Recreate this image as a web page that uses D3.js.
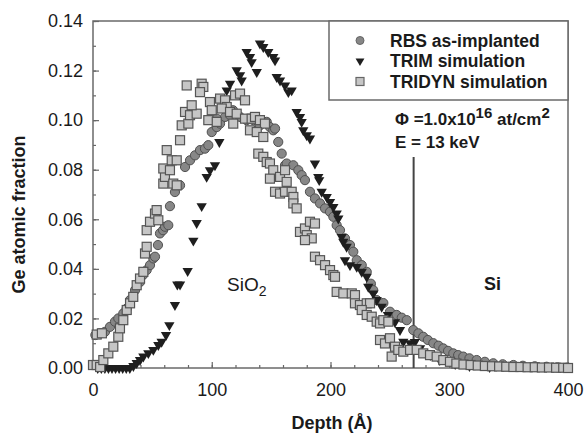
<!DOCTYPE html>
<html>
<head>
<meta charset="utf-8">
<script src="https://cdn.jsdelivr.net/npm/d3@7"></script>
<style>
  body { margin: 0; background: #fff; }
  text { font-family: "Liberation Sans", Arial, sans-serif; fill: #1a1a1a; }
</style>
</head>
<body>
<svg id="chart" width="585" height="434"></svg>
<script>

// depth (A), Ge atomic fraction
var rbsPoints = [
  [2,0.0133],[6,0.014],[10.1,0.0146],[14.3,0.0166],[18.5,0.0187],[21.3,0.02],[25.5,0.022],[28.4,0.024],
  [31.2,0.0274],[35.4,0.0314],[39.6,0.0347],[42.1,0.0375],[45.2,0.0395],[48,0.0415],[50.8,0.0442],[52.2,0.0449],
  [54.7,0.0496],[56.4,0.0543],[59,0.0556],[60.6,0.057],[63.4,0.0576],[64.8,0.0653],[69,0.071],[73.3,0.0737],
  [77.5,0.0811],[81.7,0.0838],[85.9,0.0858],[90.1,0.0879],[94.3,0.0885],[97.1,0.0899],[100,0.0952],[104.2,0.0972],
  [104.2,0.1006],[107,0.0986],[111.2,0.1013],[115.4,0.102],[117.9,0.104],[123.8,0.1013],[129.4,0.1],[135,0.1],
  [140.6,0.0979],[146.3,0.0993],[149,0.0972],[151.8,0.0959],[153.3,0.0966],[156,0.0912],[158.9,0.0865],[161.7,0.0818],
  [163.1,0.0825],[168.7,0.0818],[172.9,0.0798],[175.7,0.0778],[178.5,0.0758],[182.7,0.0711],[186.9,0.0684],[191.2,0.0664],
  [195.4,0.0644],[199.6,0.063],[202.4,0.061],[205.2,0.0576],[208,0.0556],[212.2,0.0523],[216.4,0.0496],[219.2,0.0469],
  [222.1,0.0435],[226.3,0.0415],[230.5,0.0388],[234,0.034],[236,0.0314],[238.9,0.0274],[244.5,0.0262],[250.1,0.0227],
  [255.7,0.0214],[260,0.0203],[264.2,0.0193],[269.7,0.0153],[274,0.014],[278.1,0.0126],[282,0.0113],[286.6,0.01],
  [291,0.009],[295,0.0079],[299,0.0069],[303.4,0.0059],[307.5,0.0052],[311.8,0.0046],[317,0.0039],[323.1,0.0032],
  [330,0.0025],[337.1,0.0019],[345,0.0015],[354,0.0012],[362,0.0009],[372,0.0007],[382,0.0005],[391,0.0003],[399,0.0001]
];

var trimPoints = [
  [4,0],[7,0],[10,0],[13,0],[16,0],[19,0],[22,0],[25,0],[28,0],[31,0],[34,0.0008],[36.8,0.002],
  [39.6,0.0032],[42.4,0.0046],[46.6,0.006],[50.8,0.0073],[55,0.0093],[57.8,0.0106],[61.5,0.0133],[64.3,0.0173],
  [69,0.0254],[71,0.0337],[73.3,0.0337],[79.7,0.0391],[84.5,0.0514],[87.3,0.0585],[91.5,0.0653],[95.7,0.0771],
  [98.5,0.0798],[102.7,0.0818],[106.4,0.0912],[112.6,0.112],[115.4,0.1147],[121,0.1201],[123.8,0.1181],[125.2,0.116],
  [129.4,0.1275],[132.2,0.1255],[133.6,0.1234],[137.9,0.1194],[140.6,0.1309],[143.4,0.1295],[147.6,0.1275],[151.8,0.1255],
  [153.3,0.1241],[154.7,0.1174],[157.5,0.116],[161.7,0.114],[164.5,0.1113],[167.3,0.112],[171.5,0.1033],[174.3,0.1013],
  [175.7,0.0993],[177.1,0.0959],[180,0.0939],[182.7,0.0926],[186.9,0.0825],[189.7,0.0771],[190.5,0.0758],[192.6,0.0711],
  [196.8,0.069],[199.6,0.067],[202.4,0.065],[205.2,0.0623],[206.6,0.0603],[209.4,0.0529],[210.8,0.0509],[213.6,0.0489],
  [212.2,0.0435],[216.4,0.0415],[222.1,0.0408],[226.3,0.0388],[230.5,0.0368],[231.8,0.0328],[236,0.0301],[238.9,0.0274],
  [243.1,0.0247],[248.4,0.0214],[254.3,0.0185],[258.5,0.0153],[261.3,0.0106],[267,0.01],[271,0.0105],[275.4,0.008],
  [284,0.0052],[292,0.0032],[305,0.0016],[317,0.0008],[334,0.0004]
];

var tridynPoints = [
  [0,0.0012],[3.1,0.0135],[7.5,0.014],[3.1,0.0012],[6,0.0004],[8.7,0.0032],[12.9,0.0059],[17.1,0.0086],
  [21.3,0.0126],[22.7,0.016],[25.5,0.0193],[28.4,0.0234],[31.2,0.0261],[33.9,0.0287],[36.8,0.0334],[39.6,0.0361],
  [42.4,0.0388],[43.8,0.0462],[45.2,0.0489],[45.2,0.0556],[48,0.059],[52.2,0.0623],[53.6,0.0637],[55,0.0596],
  [59.2,0.0744],[60.6,0.0771],[59.2,0.0805],[64.8,0.0798],[67.6,0.0744],[70.5,0.0737],[66.3,0.0838],[70.5,0.0838],
  [62.1,0.0879],[73.3,0.0919],[74.7,0.0979],[80.3,0.0986],[77.5,0.1033],[81.7,0.102],[87.3,0.1026],[83.1,0.106],
  [78.9,0.114],[91.5,0.1147],[92.9,0.1134],[90.1,0.1113],[98.5,0.1073],[100,0.104],[97.1,0.1],[104.2,0.0993],
  [107,0.1087],[111.2,0.108],[112.6,0.1053],[108.4,0.1047],[119.6,0.11],[123.8,0.1107],[128,0.108],[115.4,0.1033],
  [121,0.1026],[118.1,0.0986],[128,0.1006],[133.6,0.1006],[136.4,0.1013],[140.6,0.1],[144.8,0.0986],[132.2,0.0959],
  [137.9,0.0952],[143.4,0.0932],[139.2,0.0865],[143.4,0.0852],[146.3,0.0831],[149,0.0825],[151.8,0.0798],[149,0.0764],
  [157.5,0.0771],[161.7,0.0798],[163.1,0.0751],[153.3,0.0711],[157.5,0.0704],[161.7,0.0711],[167.3,0.0711],[168.7,0.069],
  [168.7,0.0664],[171.5,0.0644],[174.3,0.0549],[178.5,0.0563],[182.7,0.059],[186.9,0.0583],[180,0.0536],[184.2,0.0523],
  [178.5,0.0516],[186.9,0.0449],[191.2,0.0435],[195.4,0.0415],[199.6,0.0395],[202.4,0.0375],[203.8,0.0368],[205.2,0.0307],
  [210.8,0.0301],[217.9,0.0301],[220.6,0.0294],[220.6,0.0261],[224.8,0.0254],[230.5,0.0261],[233.3,0.0261],[226.3,0.0234],
  [230.5,0.0214],[234.7,0.0207],[238.9,0.0187],[241.7,0.018],[244.5,0.0193],[248.7,0.0187],[241.7,0.0113],[245.9,0.0099],
  [250.1,0.012],[254.3,0.0086],[251.5,0.0046],[257.1,0.0073],[261.3,0.0066],[267,0.0073],[272.6,0.0073],[278.1,0.0059],
  [283.8,0.0052],[289.4,0.0046],[295,0.0032],[300.6,0.0025],[306,0.0018],[312,0.0014],[318,0.0012],[324,0.001],
  [330,0.0008],[336,0.0007],[342,0.0006],[348,0.0005],[354,0.0004],[360,0.0004],[366,0.0003],[372,0.0003],
  [378,0.0002],[384,0.0002],[390,0.0001],[396,0.0001],[400,0]
];

var xTicks = [0, 100, 200, 300, 400];
var yTicks = [0, 0.02, 0.04, 0.06, 0.08, 0.10, 0.12, 0.14];
var legendLabels = ["RBS as-implanted", "TRIM simulation", "TRIDYN simulation"];
var interfaceDepth = 270;

var margin = {top: 21, right: 17, bottom: 66, left: 93},
    width = 585 - margin.left - margin.right,
    height = 434 - margin.top - margin.bottom;

var svg = d3.select("#chart");
var g = svg.append("g")
    .attr("transform", "translate(" + margin.left + "," + margin.top + ")");

var x = d3.scaleLinear().domain([0, 400]).range([0, width]);
var y = d3.scaleLinear().domain([0, 0.14]).range([height, 0]);

// minor ticks
g.append("g")
    .attr("transform", "translate(0," + height + ")")
    .call(d3.axisBottom(x).tickValues(d3.range(0, 401, 20)).tickSize(-3).tickFormat(""))
    .call(function(a){ a.select(".domain").remove(); });
g.append("g")
    .call(d3.axisLeft(y).tickValues(d3.range(0, 0.1401, 0.01)).tickSize(-3).tickFormat(""))
    .call(function(a){ a.select(".domain").remove(); });

var xAxis = g.append("g")
    .attr("transform", "translate(0," + height + ")")
    .call(d3.axisBottom(x).tickValues(xTicks).tickSize(-6).tickPadding(15).tickFormat(d3.format("d")));
var yAxis = g.append("g")
    .call(d3.axisLeft(y).tickValues(yTicks).tickSize(-6).tickPadding(10).tickFormat(d3.format(".2f")));

[xAxis, yAxis].forEach(function(a){
    a.select(".domain").remove();
    a.selectAll("text")
        .style("font-family", "'Liberation Sans', Arial, sans-serif")
        .style("font-size", "18px")
        .attr("fill", "#1a1a1a");
});
g.selectAll(".tick line").attr("stroke", "#666").attr("stroke-width", 1.2);

// frame
g.append("rect")
    .attr("x", 0).attr("y", 0)
    .attr("width", width).attr("height", height)
    .attr("fill", "none")
    .attr("stroke", "#6a6a6a")
    .attr("stroke-width", 1.5);

// interface line
g.append("line")
    .attr("x1", x(interfaceDepth)).attr("x2", x(interfaceDepth))
    .attr("y1", 136).attr("y2", height)
    .attr("stroke", "#444")
    .attr("stroke-width", 2);

// data
var tri = d3.symbol().type(d3.symbolTriangle).size(46);

g.append("g").selectAll("circle")
    .data(rbsPoints)
    .enter().append("circle")
    .attr("cx", function(d){ return x(d[0]); })
    .attr("cy", function(d){ return y(d[1]); })
    .attr("r", 4.6)
    .attr("fill", "#878787")
    .attr("stroke", "#505050")
    .attr("stroke-width", 1);

g.append("g").selectAll("path")
    .data(trimPoints)
    .enter().append("path")
    .attr("d", tri)
    .attr("transform", function(d){
        return "translate(" + x(d[0]) + "," + y(d[1]) + ") rotate(180)";
    })
    .attr("fill", "#1e1e1e");

g.append("g").selectAll("rect")
    .data(tridynPoints)
    .enter().append("rect")
    .attr("x", function(d){ return x(d[0]) - 4.5; })
    .attr("y", function(d){ return y(d[1]) - 4.5; })
    .attr("width", 9)
    .attr("height", 9)
    .attr("fill", "#c6c6c6")
    .attr("stroke", "#555")
    .attr("stroke-width", 1.2);

// legend
var legendLeft = 236;
var legend = g.append("g").attr("transform", "translate(" + legendLeft + ",0)");
legend.append("rect")
    .attr("x", 0).attr("y", 0)
    .attr("width", width - legendLeft).attr("height", 79)
    .attr("fill", "#fff")
    .attr("stroke", "#6a6a6a")
    .attr("stroke-width", 1.5);

var rows = legend.selectAll(".row")
    .data(legendLabels)
    .enter().append("g")
    .attr("class", "row")
    .attr("transform", function(d, i){ return "translate(31," + (19.5 + i * 20.5) + ")"; });

rows.filter(function(d, i){ return i == 0; })
    .append("circle").attr("r", 4).attr("fill", "#878787").attr("stroke", "#666");
rows.filter(function(d, i){ return i == 1; })
    .append("path").attr("d", d3.symbol().type(d3.symbolTriangle).size(34)).attr("transform", "rotate(180)")
    .attr("fill", "#1e1e1e");
rows.filter(function(d, i){ return i == 2; })
    .append("rect").attr("x", -4).attr("y", -4).attr("width", 8).attr("height", 8)
    .attr("fill", "#c6c6c6").attr("stroke", "#666").attr("stroke-width", 1.2);

rows.append("text")
    .attr("x", 30)
    .attr("dy", "0.36em")
    .style("font-size", "17.5px")
    .style("font-weight", "bold")
    .text(function(d){ return d; });

// annotations
var ann = g.append("text")
    .attr("x", 302).attr("y", 104)
    .style("font-size", "17px")
    .style("font-weight", "bold");
ann.append("tspan").text("\u03A6 =1.0x10");
ann.append("tspan").attr("dy", -7).style("font-size", "15px").text("16");
ann.append("tspan").attr("dy", 7).text(" at/cm");
ann.append("tspan").attr("dy", -7).style("font-size", "15px").text("2");

g.append("text")
    .attr("x", 302).attr("y", 127)
    .style("font-size", "17px")
    .style("font-weight", "bold")
    .text("E = 13 keV");

var sio2 = g.append("text")
    .attr("x", 134).attr("y", 270)
    .style("font-size", "19px");
sio2.append("tspan").text("SiO");
sio2.append("tspan").attr("dy", 5).style("font-size", "14px").text("2");

g.append("text")
    .attr("x", 391).attr("y", 269)
    .style("font-size", "18px")
    .style("font-weight", "bold")
    .text("Si");

// axis titles
g.append("text")
    .attr("x", 239).attr("y", height + 61)
    .attr("text-anchor", "middle")
    .style("font-size", "18px")
    .style("font-weight", "bold")
    .text("Depth (\u00C5)");

g.append("text")
    .attr("transform", "translate(-68," + (height / 2 + 20) + ") rotate(-90)")
    .attr("text-anchor", "middle")
    .style("font-size", "18px")
    .style("font-weight", "bold")
    .text("Ge atomic fraction");

</script>
</body>
</html>
